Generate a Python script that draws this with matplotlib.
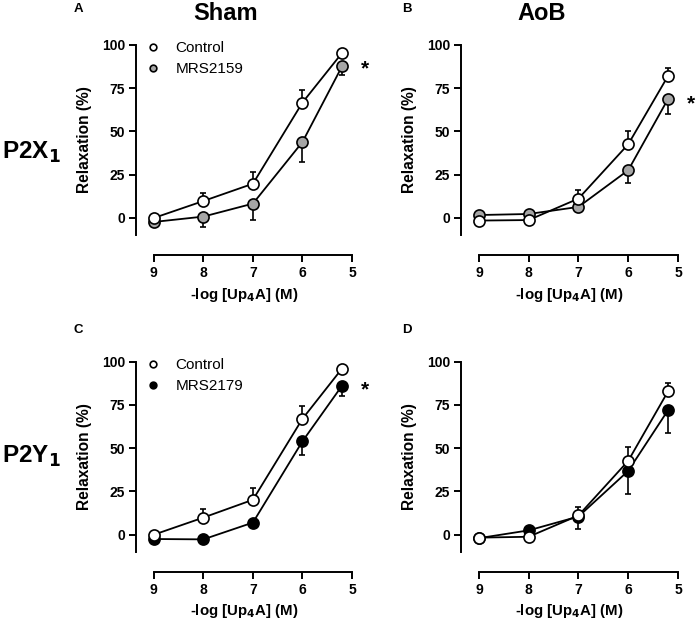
import matplotlib
matplotlib.use('Agg')
import matplotlib.pyplot as plt

plt.rcParams['font.family'] = ['Liberation Sans', 'DejaVu Sans']

# -log [Up4A] (M)
conc = [9, 8, 7, 6, 5.2]

# panel A: Sham, P2X1
shamX_ctrl = [0.0, 9.8, 19.8, 66.7, 95.4]
shamX_ctrl_err = [1.0, 4.8, 7.0, 7.1, 2.3]
shamX_mrs = [-2.3, 0.8, 8.3, 43.9, 87.7]
shamX_mrs_err = [1.0, 5.8, 9.5, 11.3, 5.2]

# panel B: AoB, P2X1
aobX_ctrl = [-1.5, -1.2, 11.2, 42.6, 82.1]
aobX_ctrl_err = [1.0, 1.0, 5.0, 7.7, 4.8]
aobX_mrs = [1.7, 2.3, 6.4, 27.6, 68.8]
aobX_mrs_err = [1.0, 1.0, 1.0, 7.4, 8.9]

# panel C: Sham, P2Y1
shamY_ctrl = [0.0, 9.9, 20.2, 67.0, 96.1]
shamY_ctrl_err = [1.0, 4.9, 7.0, 7.2, 2.3]
shamY_mrs = [-2.5, -2.7, 7.0, 54.0, 86.2]
shamY_mrs_err = [1.0, 1.0, 1.0, 7.8, 5.8]

# panel D: AoB, P2Y1
aobY_ctrl = [-1.7, -1.2, 11.1, 42.7, 82.9]
aobY_ctrl_err = [1.0, 1.0, 5.2, 7.8, 4.9]
aobY_mrs = [-2.0, 2.5, 10.5, 36.9, 72.0]
aobY_mrs_err = [1.0, 1.0, 7.0, 13.6, 13.0]

W, H = 697, 620
fig = plt.figure(figsize=(W / 100, H / 100), dpi=100)


def px_axes(left, right, top, bottom):
    return fig.add_axes([left / W, (H - bottom) / H, (right - left) / W, (bottom - top) / H])


def draw_panel(ax, ctrl, ctrl_err, trt, trt_err, trt_color, trt_name=None, star=None):
    # treatment first, control on top
    ax.errorbar(conc, trt, yerr=[trt_err, [0] * len(trt_err)], color='black', lw=1.3,
                marker='o', ms=8, mfc=trt_color, mec='black', mew=1.2,
                capsize=2.5, capthick=1.2, elinewidth=1.2, zorder=3)
    ax.errorbar(conc, ctrl, yerr=[[0] * len(ctrl_err), ctrl_err], color='black', lw=1.3,
                marker='o', ms=8, mfc='white', mec='black', mew=1.2,
                capsize=2.5, capthick=1.2, elinewidth=1.2, zorder=4)
    ax.set_xlim(9.36, 5.0)
    ax.set_ylim(-21.4, 102)
    for s in ['top', 'right']:
        ax.spines[s].set_visible(False)
    ax.spines['left'].set_bounds(-10, 100)
    ax.spines['bottom'].set_bounds(9, 5)
    ax.spines['left'].set_linewidth(1.4)
    ax.spines['bottom'].set_linewidth(1.4)
    ax.set_xticks([9, 8, 7, 6, 5])
    ax.set_yticks([0, 25, 50, 75, 100])
    ax.tick_params(direction='out', length=5, width=1.4, labelsize=10, pad=3)
    for lab in ax.get_xticklabels() + ax.get_yticklabels():
        lab.set_fontweight('bold')
    ax.set_xlabel(r'-log [Up$_\mathbf{4}$A] (M)', fontsize=10.8, fontweight='bold', labelpad=4)
    ax.set_ylabel('Relaxation (%)', fontsize=11.2, fontweight='bold')
    ax.yaxis.set_label_coords(-0.205, 0.54)
    if trt_name is not None:
        ax.plot([], [], 'o', ms=4.8, mfc='white', mec='black', mew=1.2, label='Control')
        ax.plot([], [], 'o', ms=4.8, mfc=trt_color, mec='black', mew=1.2, label=trt_name)
        ax.legend(loc='upper left', bbox_to_anchor=(0.02, 1.03), frameon=False,
                  fontsize=11, handlelength=0.8, handletextpad=1.1, labelspacing=0.45,
                  borderaxespad=0.0)
    if star is not None:
        ax.text(5.2, star, '*', fontsize=15, fontweight='bold', ha='left', va='center',
                transform=ax.transData + matplotlib.transforms.ScaledTranslation(0.19, 0, fig.dpi_scale_trans),
                clip_on=False)


axA = px_axes(136, 352, 41.5, 255)
axB = px_axes(461, 678, 41.5, 255)
axC = px_axes(136, 352, 358.3, 571.7)
axD = px_axes(461, 678, 358.3, 571.7)

draw_panel(axA, shamX_ctrl, shamX_ctrl_err, shamX_mrs, shamX_mrs_err, '#a6a6a6', 'MRS2159', star=86)
draw_panel(axB, aobX_ctrl, aobX_ctrl_err, aobX_mrs, aobX_mrs_err, '#a6a6a6', None, star=66)
draw_panel(axC, shamY_ctrl, shamY_ctrl_err, shamY_mrs, shamY_mrs_err, 'black', 'MRS2179', star=84)
draw_panel(axD, aobY_ctrl, aobY_ctrl_err, aobY_mrs, aobY_mrs_err, 'black', None)

# column titles, row labels, panel letters
fig.text(226 / W, 1 - 14 / H, 'Sham', fontsize=17, fontweight='bold', ha='center', va='center')
fig.text(542 / W, 1 - 14 / H, 'AoB', fontsize=17, fontweight='bold', ha='center', va='center')
fig.text(2 / W, 1 - 159 / H, r'P2X$_\mathbf{1}$', fontsize=17.5, fontweight='bold', ha='left', va='baseline')
fig.text(2 / W, 1 - 463 / H, r'P2Y$_\mathbf{1}$', fontsize=17.5, fontweight='bold', ha='left', va='baseline')
for letter, x, y in [('A', 78, 9), ('B', 407, 9), ('C', 78, 330), ('D', 407, 330)]:
    fig.text(x / W, 1 - y / H, letter, fontsize=9.5, fontweight='bold', ha='center', va='center')

fig.savefig('out.png', dpi=100)
